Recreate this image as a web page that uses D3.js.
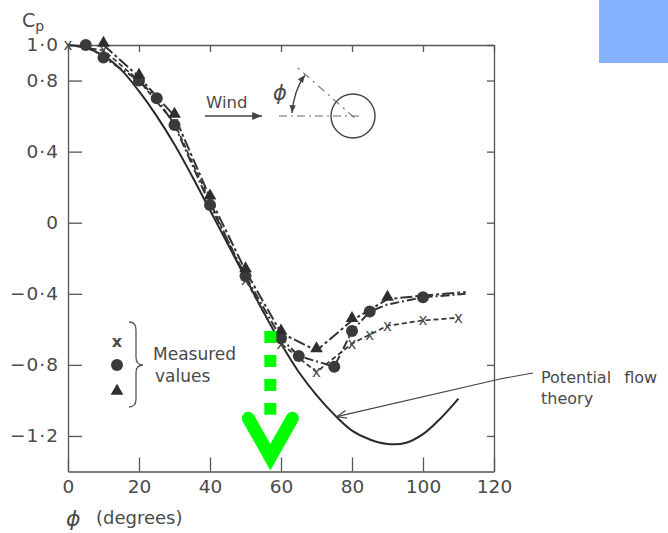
<!DOCTYPE html>
<html>
<head>
<meta charset="utf-8">
<script src="https://cdn.jsdelivr.net/npm/d3@7"></script>
<style>
  body { margin: 0; background: #fff; }
  svg text { font-family: "DejaVu Sans", sans-serif; fill: #4a4a4a; }
</style>
</head>
<body>
<div class="chart"></div>
<script>
// Potential flow theory curve
const theoryPhi = [0, 5, 10, 15, 20, 25, 30, 35, 40, 45, 50, 55, 60, 65, 70, 75, 80, 85, 90, 95, 100, 105, 110];
const theoryCp = [1.0, 0.985, 0.94, 0.86, 0.74, 0.6, 0.44, 0.26, 0.07, -0.12, -0.31, -0.5, -0.68, -0.84, -0.97, -1.08, -1.17, -1.22, -1.245, -1.24, -1.19, -1.1, -0.99];

// Measured values (three runs)
const crossPhi = [0, 10, 20, 30, 40, 50, 60, 70, 80, 85, 90, 100, 110];
const crossCp = [1.0, 0.97, 0.8, 0.56, 0.12, -0.32, -0.68, -0.84, -0.68, -0.63, -0.58, -0.55, -0.535];

const circlePhi = [5, 10, 20, 25, 30, 40, 50, 60, 65, 75, 80, 85, 90, 100, 112];
const circleCp = [1.0, 0.93, 0.8, 0.7, 0.55, 0.1, -0.3, -0.65, -0.75, -0.81, -0.61, -0.5, -0.46, -0.42, -0.40];
const circleMarked = [1, 1, 1, 1, 1, 1, 1, 1, 1, 1, 1, 1, 0, 1, 0];

const triPhi = [10, 20, 30, 40, 50, 60, 70, 80, 90, 100, 112];
const triCp = [1.0, 0.82, 0.6, 0.14, -0.27, -0.62, -0.72, -0.55, -0.43, -0.41, -0.39];
const triMarked = [1, 1, 1, 1, 1, 1, 1, 1, 1, 0, 0];

const xTicks = [0, 20, 40, 60, 80, 100, 120];
const yTicks = [1.0, 0.8, 0.4, 0, -0.4, -0.8, -1.2];

const W = 668, H = 533;
const svg = d3.select(".chart").append("svg").attr("width", W).attr("height", H);

const x = d3.scaleLinear().domain([0, 120]).range([68, 494]);
const y = d3.scaleLinear().domain([-1.4, 1.0]).range([471.5, 45]);

const fmt = v => (v === 0 ? "0" : d3.format(".1f")(v).replace(".", "\u00b7").replace("-", "\u2212"));

// blue box top right
svg.append("rect").attr("x", 599).attr("y", 0).attr("width", 69).attr("height", 63).attr("fill", "#86b2ff");

// Axes
const axisStyle = g => {
  g.selectAll("path, line").attr("stroke", "#555").attr("stroke-width", 1.3);
  g.selectAll("text").style("font-size", "18.5px").attr("fill", "#4a4a4a")
    .style("font-family", "DejaVu Sans, sans-serif");
};

svg.append("g").attr("transform", `translate(68,0)`)
  .call(d3.axisLeft(y).tickValues(yTicks).tickSizeInner(-14).tickSizeOuter(0).tickPadding(9).tickFormat(fmt))
  .call(axisStyle)
  .selectAll("text").style("letter-spacing", "1px");

svg.append("g").attr("transform", `translate(0,471.5)`)
  .call(d3.axisBottom(x).tickValues(xTicks).tickSizeInner(-14).tickSizeOuter(0).tickPadding(8).tickFormat(d3.format("d")))
  .call(axisStyle);

svg.append("g").attr("transform", `translate(0,45)`)
  .call(d3.axisTop(x).tickValues(xTicks).tickSizeInner(-7).tickSizeOuter(0).tickFormat(""))
  .call(axisStyle);

svg.append("g").attr("transform", `translate(494,0)`)
  .call(d3.axisRight(y).tickValues(yTicks).tickSizeInner(-7).tickSizeOuter(0).tickFormat(""))
  .call(axisStyle);

// Axis titles
const cp = svg.append("text").attr("x", 22).attr("y", 27).attr("font-size", 19);
cp.append("tspan").text("C");
cp.append("tspan").attr("font-size", 14).attr("dy", 4).text("p");

svg.append("text").attr("x", 66).attr("y", 526).attr("font-size", 22).attr("font-style", "italic").text("\u03d5");
svg.append("text").attr("x", 96).attr("y", 524).attr("font-size", 18).text("(degrees)");

// Theory curve
const line = d3.line().x(d => x(d[0])).y(d => y(d[1]));
svg.append("path")
  .datum(d3.zip(theoryPhi, theoryCp))
  .attr("d", line.curve(d3.curveCatmullRom))
  .attr("fill", "none").attr("stroke", "#2a2a2a").attr("stroke-width", 2);

const straight = d3.line().x(d => x(d[0])).y(d => y(d[1]));

// measured lines
svg.append("path").datum(d3.zip(crossPhi, crossCp)).attr("d", straight)
  .attr("fill", "none").attr("stroke", "#333").attr("stroke-width", 1.7).attr("stroke-dasharray", "5,3");
svg.append("path").datum(d3.zip(circlePhi, circleCp)).attr("d", straight)
  .attr("fill", "none").attr("stroke", "#333").attr("stroke-width", 2).attr("stroke-dasharray", "9,3,2,3");
svg.append("path").datum(d3.zip(triPhi, triCp)).attr("d", straight)
  .attr("fill", "none").attr("stroke", "#333").attr("stroke-width", 2).attr("stroke-dasharray", "12,3,3,3");

// markers
const crossG = svg.append("g");
crossG.selectAll("text").data(d3.zip(crossPhi, crossCp)).join("text")
  .attr("x", d => x(d[0])).attr("y", d => y(d[1]) + 5)
  .attr("text-anchor", "middle").attr("font-size", 15).attr("fill", "#333").text("x");

svg.append("g").selectAll("circle")
  .data(d3.zip(circlePhi, circleCp, circleMarked).filter(d => d[2]))
  .join("circle")
  .attr("cx", d => x(d[0])).attr("cy", d => y(d[1])).attr("r", 6)
  .attr("fill", "#3a3a3a");

const tri = d3.symbol().type(d3.symbolTriangle).size(70);
svg.append("g").selectAll("path")
  .data(d3.zip(triPhi, triCp, triMarked).filter(d => d[2]))
  .join("path")
  .attr("d", tri)
  .attr("transform", d => `translate(${x(d[0])},${y(d[1]) - 2})`)
  .attr("fill", "#2e2e2e");

// Legend
svg.append("text").attr("x", 117).attr("y", 347).attr("text-anchor", "middle").attr("font-size", 16).attr("font-weight", "bold").attr("fill", "#333").text("x");
svg.append("circle").attr("cx", 117).attr("cy", 365).attr("r", 6).attr("fill", "#3a3a3a");
svg.append("path").attr("d", tri).attr("transform", "translate(117,391)").attr("fill", "#2e2e2e");
svg.append("path")
  .attr("d", "M129,322 Q136,322 136,330 L136,357 Q136,365 143,365 Q136,365 136,373 L136,399 Q136,407 129,407")
  .attr("fill", "none").attr("stroke", "#555").attr("stroke-width", 1.3);
svg.append("text").attr("x", 153).attr("y", 360).attr("font-size", 17).text("Measured");
svg.append("text").attr("x", 155).attr("y", 382).attr("font-size", 17).text("values");

// Theory label + pointer
svg.append("defs").append("marker").attr("id", "ah").attr("viewBox", "0 0 10 10")
  .attr("refX", 9).attr("refY", 5).attr("markerWidth", 9).attr("markerHeight", 9).attr("orient", "auto")
  .append("path").attr("d", "M0,1 L10,5 L0,9").attr("fill", "none").attr("stroke", "#444").attr("stroke-width", 1.2);
svg.append("path")
  .attr("d", `M533,373 L500,379 L${x(76)},${y(-1.09)}`)
  .attr("fill", "none").attr("stroke", "#444").attr("stroke-width", 1.1).attr("marker-end", "url(#ah)");
svg.append("text").attr("x", 541).attr("y", 383).attr("font-size", 16).style("word-spacing", "8px").text("Potential flow");
svg.append("text").attr("x", 541).attr("y", 404).attr("font-size", 16).text("theory");

// Wind diagram
svg.append("defs").append("marker").attr("id", "wa").attr("viewBox", "0 0 10 10")
  .attr("refX", 10).attr("refY", 5).attr("markerWidth", 7).attr("markerHeight", 7).attr("orient", "auto")
  .append("path").attr("d", "M0,1 L10,5 L0,9 Z").attr("fill", "#444");
svg.append("defs").append("marker").attr("id", "wb").attr("viewBox", "0 0 10 10")
  .attr("refX", 10).attr("refY", 5).attr("markerWidth", 6).attr("markerHeight", 6).attr("orient", "auto-start-reverse")
  .append("path").attr("d", "M0,1 L10,5 L0,9 Z").attr("fill", "#444");
svg.append("text").attr("x", 206).attr("y", 108).attr("font-size", 16.5).text("Wind");
svg.append("line").attr("x1", 205).attr("y1", 116).attr("x2", 262).attr("y2", 116)
  .attr("stroke", "#444").attr("stroke-width", 1.4).attr("marker-end", "url(#wa)");
svg.append("circle").attr("cx", 353).attr("cy", 116).attr("r", 22).attr("fill", "none").attr("stroke", "#444").attr("stroke-width", 1.4);
svg.append("line").attr("x1", 279).attr("y1", 116).attr("x2", 363).attr("y2", 116)
  .attr("stroke", "#666").attr("stroke-width", 1.1).attr("stroke-dasharray", "8,4,2,4");
svg.append("line").attr("x1", 298).attr("y1", 68).attr("x2", 357).attr("y2", 120)
  .attr("stroke", "#666").attr("stroke-width", 1.1).attr("stroke-dasharray", "2,5,8,5");
svg.append("path").attr("d", "M292,113 Q294,90 305,75")
  .attr("fill", "none").attr("stroke", "#444").attr("stroke-width", 1.3)
  .attr("marker-start", "url(#wb)").attr("marker-end", "url(#wb)");
svg.append("text").attr("x", 273).attr("y", 100).attr("font-size", 21).attr("font-style", "italic").text("\u03d5");

// green annotation arrow
const gx = x(57);
svg.append("line").attr("x1", gx).attr("y1", y(-0.61)).attr("x2", gx).attr("y2", y(-1.08))
  .attr("stroke", "#00ff00").attr("stroke-width", 12).attr("stroke-dasharray", "12,12");
svg.append("path")
  .attr("d", `M${gx - 22},${y(-1.1)} L${gx},${y(-1.32)} L${gx + 22},${y(-1.1)}`)
  .attr("fill", "none").attr("stroke", "#00ff00").attr("stroke-width", 13)
  .attr("stroke-linecap", "round").attr("stroke-linejoin", "miter");
</script>
</body>
</html>
